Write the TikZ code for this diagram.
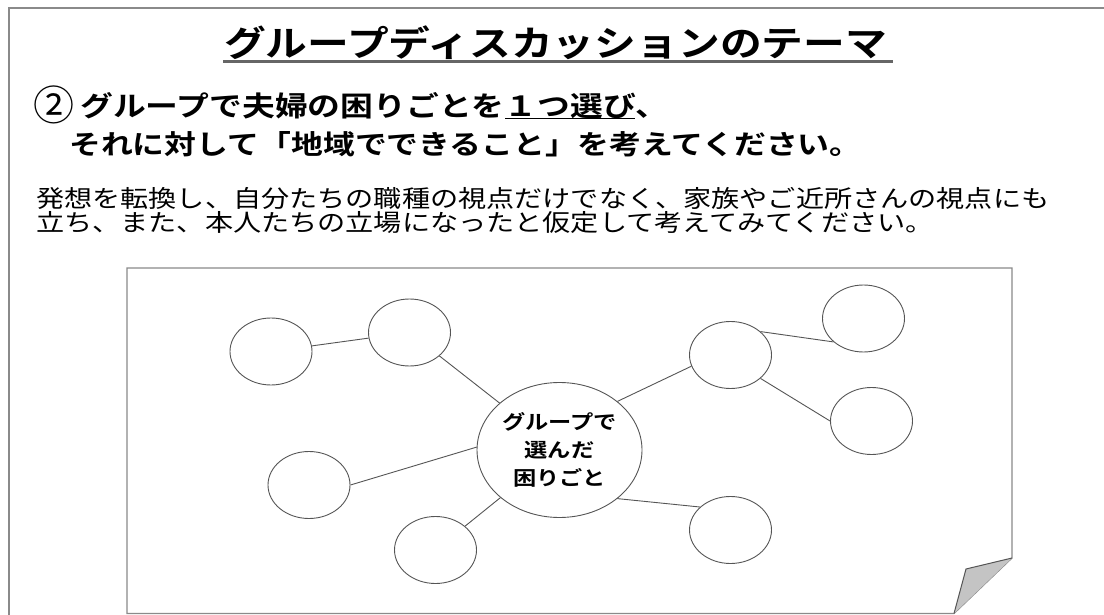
\documentclass[tikz,border=0pt]{standalone}
\usepackage{fontspec}
\newfontfamily\jp[FakeStretch=1.18,BoldFont={Noto Sans CJK JP Bold}]{Noto Sans CJK JP}
\newfontfamily\jpround{Noto Sans CJK JP}
\usetikzlibrary{shapes.geometric}
\definecolor{linegray}{HTML}{555555}
\definecolor{framegray}{HTML}{8A8A8A}
\definecolor{rulegray}{HTML}{666666}
\definecolor{flapgray}{HTML}{C4C4C4}
\tikzset{
  txt/.style={anchor=base west, inner sep=0pt, text=black},
  bubble/.style={ellipse, draw=linegray, line width=0.9pt, minimum width=82pt, minimum height=67pt, inner sep=0pt},
  hub/.style={ellipse, draw=linegray, line width=0.9pt, minimum width=165pt, minimum height=135pt, inner sep=0pt, align=center,
     font=\jp\bfseries\fontsize{19.7}{28}\selectfont},
  link/.style={draw=linegray, line width=0.9pt},
}
\begin{document}
\begin{tikzpicture}[x=1pt,y=-1pt]
\useasboundingbox (0,0) rectangle (1104,615);
\fill[white] (0,0) rectangle (1104,615);
% outer frame
\draw[framegray, line width=1.5pt] (9,615) -- (9,8) -- (1104,8);
% title
\node[txt, font=\jp\bfseries\fontsize{35.4}{40}\selectfont] (title) at (224,56.5) {グループディスカッションのテーマ};
\draw[rulegray, line width=2.6pt] (223,61.5) -- (893,61.5);
% instruction lines
\node[txt, font=\jp\bfseries\fontsize{27.8}{32}\selectfont] (l2) at (33.5,117)
  {\raisebox{-3.5pt}{\jpround\mdseries\fontsize{41}{41}\selectfont ②}\hspace{5.5pt}グループで夫婦の困りごとを１つ選び、};
\draw[black, line width=1.3pt] (505,118.5) -- (635,118.5);
\node[txt, font=\jp\bfseries\fontsize{27.0}{32}\selectfont] (l3) at (69,155) {それに対して「地域でできること」を考えてください。};
\node[txt, font=\jp\fontsize{23.85}{28}\selectfont] (l4) at (36,207.5) {発想を転換し、自分たちの職種の視点だけでなく、家族やご近所さんの視点にも};
\node[txt, font=\jp\fontsize{23.85}{28}\selectfont] (l5) at (36,231) {立ち、また、本人たちの立場になったと仮定して考えてみてください。};
% paper sheet
\draw[framegray, line width=1.2pt] (127,613.5) -- (127,268) -- (1012,268) -- (1012,558) -- (954,613.5) -- cycle;
\fill[flapgray] (1012,558) -- (966,569) -- (954,613.5) -- cycle;
\draw[linegray, line width=1pt] (1012,558) -- (966,569) -- (954,613.5);
% bubbles
\node[hub] (M) at (559.5,450) {グループで\\選んだ\\困りごと};
\node[bubble] (A) at (271,351.5) {};
\node[bubble] (B) at (409.5,332.5) {};
\node[bubble] (C) at (309,485) {};
\node[bubble] (D) at (435.5,550) {};
\node[bubble] (E) at (730.5,355) {};
\node[bubble] (F) at (863.5,318.5) {};
\node[bubble] (G) at (871.5,421) {};
\node[bubble] (H) at (730.5,530) {};
% connectors
\path[link] (A) -- (B);
\path[link] (B) -- (M);
\path[link] (C.east) -- (M.178);
\path[link] (D) -- (M);
\path[link] (M.40) -- (E.196);
\path[link] (E.38) -- (F.218);
\path[link] (E.-38) -- (G.west);
\path[link] (M.-40) -- (H.143);
\end{tikzpicture}
\end{document}
